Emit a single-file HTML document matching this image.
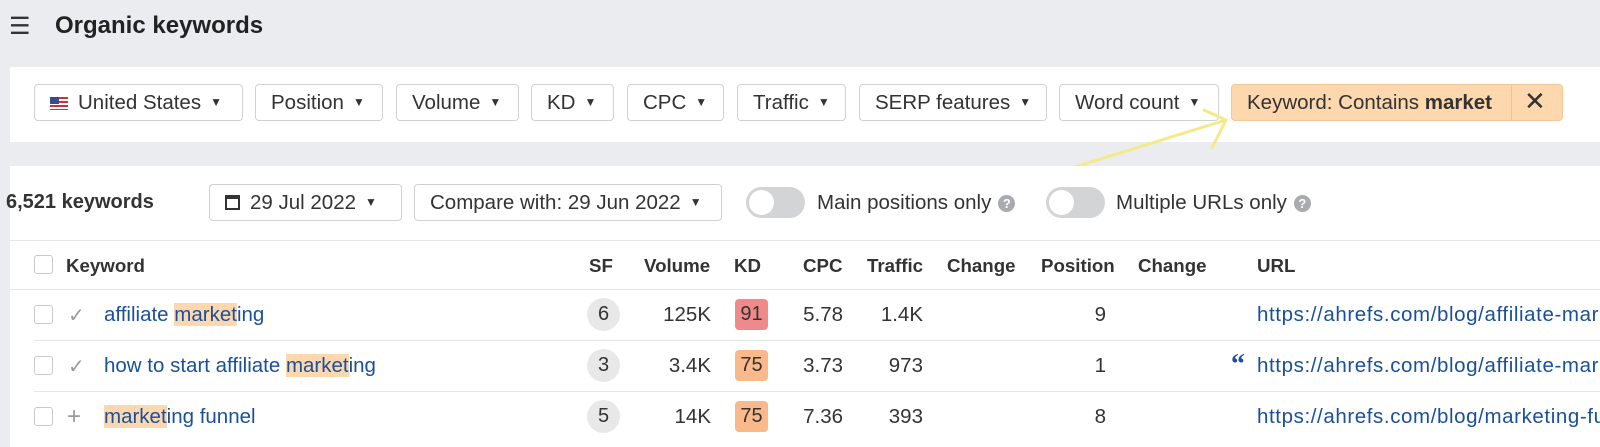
<!DOCTYPE html>
<html><head><meta charset="utf-8"><style>
*{margin:0;padding:0;box-sizing:border-box}
body{width:1600px;height:443px;background:#ebecef;font-family:"Liberation Sans",Arial,sans-serif;color:#333;position:relative;overflow:hidden;font-size:20.5px}
.a{position:absolute;white-space:nowrap}
.p{position:absolute;background:#fff}
.btn{position:absolute;border:1px solid #cfd1d5;border-radius:4px;background:#fff;height:37px;line-height:35px;padding-left:15px;font-size:20.5px;color:#333;white-space:nowrap;overflow:hidden}
.tri{font-size:12px;margin-left:9px;vertical-align:3px}
.cb{position:absolute;width:19px;height:19px;border:1px solid #c8cacd;border-radius:3px;background:#fff}
.h{position:absolute;font-weight:bold;font-size:18.7px;color:#333;white-space:nowrap}
.line{position:absolute;left:10px;right:0;height:1px;background:#e5e6e8}
.kw{color:#1a4f9c}
.u{letter-spacing:0.6px;width:343px;overflow:hidden}
.hl{background:#fdd7ae}
.sf{position:absolute;width:33px;height:33px;border-radius:50%;background:#e8e8e8;text-align:center;line-height:33px;font-size:20px}
.kd{position:absolute;width:33px;height:31px;border-radius:4px;text-align:center;line-height:31px;font-size:20px}
.tg{position:absolute;width:59px;height:31px;border-radius:16px;background:#d3d4d6}
.tg i{position:absolute;left:3px;top:3px;width:25px;height:25px;border-radius:50%;background:#fff}
.q{display:inline-block;width:17px;height:17px;border-radius:50%;background:#a9abae;color:#fff;font-size:13px;line-height:17px;text-align:center;font-weight:bold;vertical-align:1px;margin-left:7px}
.r{text-align:right}
</style></head><body>
<div class="a" style="left:9px;top:12px;font-size:24px">&#9776;</div>
<div class="a" style="left:55px;top:12px;font-size:24px;font-weight:bold;color:#222">Organic keywords</div>

<div class="p" style="left:10px;top:67px;width:1590px;height:75px"></div>
<div class="btn" style="left:34px;top:84px;width:209px"><span style="display:inline-block;width:18px;height:13px;background:repeating-linear-gradient(#c33 0 2px,#fff 2px 4px);position:relative;vertical-align:-1px;margin-right:10px"><span style="position:absolute;left:0;top:0;width:9px;height:7px;background:#3c4a8c"></span></span>United States<span class="tri">▼</span></div>
<div class="btn" style="left:255px;top:84px;width:128px">Position<span class="tri">▼</span></div>
<div class="btn" style="left:396px;top:84px;width:123px">Volume<span class="tri">▼</span></div>
<div class="btn" style="left:531px;top:84px;width:83px">KD<span class="tri">▼</span></div>
<div class="btn" style="left:627px;top:84px;width:97px">CPC<span class="tri">▼</span></div>
<div class="btn" style="left:737px;top:84px;width:109px">Traffic<span class="tri">▼</span></div>
<div class="btn" style="left:859px;top:84px;width:188px">SERP features<span class="tri">▼</span></div>
<div class="btn" style="left:1059px;top:84px;width:160px">Word count<span class="tri">▼</span></div>
<div class="btn" style="left:1231px;top:84px;width:332px;background:#fdd7ae;border-color:#f4c79a">Keyword: Contains <b>market</b></div>
<div class="a" style="left:1511px;top:85px;width:1px;height:35px;background:#f0c293"></div>
<div class="a" style="left:1524px;top:86px;font-size:26px;color:#333">✕</div>
<svg class="a" style="left:1040px;top:102px" width="200" height="80"><path d="M12 72 L186 18 M164 8 L186 18 L172 46" stroke="#f3ea8a" stroke-width="3" fill="none" stroke-linecap="round"/></svg>

<div class="p" style="left:10px;top:166px;width:1590px;height:281px"></div>
<div class="a" style="left:6px;top:191px;font-weight:bold;font-size:20px">6,521 keywords</div>
<div class="btn" style="left:209px;top:184px;width:193px"><span style="display:inline-block;width:15px;height:15px;border:2px solid #333;border-top-width:4px;vertical-align:-1px;margin-right:10px"></span>29 Jul 2022<span class="tri">▼</span></div>
<div class="btn" style="left:414px;top:184px;width:308px">Compare with: 29 Jun 2022<span class="tri">▼</span></div>
<div class="tg" style="left:746px;top:187px"><i></i></div>
<div class="a" style="left:817px;top:191px">Main positions only<span class="q">?</span></div>
<div class="tg" style="left:1046px;top:187px"><i></i></div>
<div class="a" style="left:1116px;top:191px">Multiple URLs only<span class="q">?</span></div>
<div class="line" style="top:240px"></div>

<div class="cb" style="left:34px;top:255px"></div>
<div class="h" style="left:66px;top:255px">Keyword</div>
<div class="h" style="left:589px;top:255px">SF</div>
<div class="h" style="left:644px;top:255px">Volume</div>
<div class="h" style="left:734px;top:255px">KD</div>
<div class="h" style="left:803px;top:255px">CPC</div>
<div class="h" style="left:867px;top:255px">Traffic</div>
<div class="h" style="left:947px;top:255px">Change</div>
<div class="h" style="left:1041px;top:255px">Position</div>
<div class="h" style="left:1138px;top:255px">Change</div>
<div class="h" style="left:1257px;top:255px">URL</div>
<div class="line" style="top:289px"></div>

<!-- row1 -->
<div class="cb" style="left:34px;top:305px"></div>
<div class="a" style="left:68px;top:303px;color:#999;font-size:20px">✓</div>
<div class="a kw" style="left:104px;top:303px">affiliate <span class="hl">market</span>ing</div>
<div class="sf" style="left:587px;top:298px">6</div>
<div class="a r" style="left:611px;top:303px;width:100px">125K</div>
<div class="kd" style="left:735px;top:299px;background:#f08a8a">91</div>
<div class="a r" style="left:783px;top:303px;width:60px">5.78</div>
<div class="a r" style="left:843px;top:303px;width:80px">1.4K</div>
<div class="a r" style="left:1063px;top:303px;width:43px">9</div>
<div class="a kw u" style="left:1257px;top:303px">https://ahrefs.com/blog/affiliate-marketing/</div>
<div class="line" style="top:340px;left:34px"></div>
<!-- row2 -->
<div class="cb" style="left:34px;top:356px"></div>
<div class="a" style="left:68px;top:354px;color:#999;font-size:20px">✓</div>
<div class="a kw" style="left:104px;top:354px">how to start affiliate <span class="hl">market</span>ing</div>
<div class="sf" style="left:587px;top:349px">3</div>
<div class="a r" style="left:611px;top:354px;width:100px">3.4K</div>
<div class="kd" style="left:735px;top:350px;background:#f9b98a">75</div>
<div class="a r" style="left:783px;top:354px;width:60px">3.73</div>
<div class="a r" style="left:843px;top:354px;width:80px">973</div>
<div class="a r" style="left:1063px;top:354px;width:43px">1</div>
<div class="a" style="left:1231px;top:349px;color:#1a4f9c;font-size:28px;font-weight:bold;font-family:'Liberation Serif',serif">&#8220;</div>
<div class="a kw u" style="left:1257px;top:354px">https://ahrefs.com/blog/affiliate-marketing/</div>
<div class="line" style="top:391px;left:34px"></div>
<!-- row3 -->
<div class="cb" style="left:34px;top:407px"></div>
<div class="a" style="left:67px;top:403px;color:#999;font-size:24px">+</div>
<div class="a kw" style="left:104px;top:405px"><span class="hl">market</span>ing funnel</div>
<div class="sf" style="left:587px;top:400px">5</div>
<div class="a r" style="left:611px;top:405px;width:100px">14K</div>
<div class="kd" style="left:735px;top:401px;background:#f9b98a">75</div>
<div class="a r" style="left:783px;top:405px;width:60px">7.36</div>
<div class="a r" style="left:843px;top:405px;width:80px">393</div>
<div class="a r" style="left:1063px;top:405px;width:43px">8</div>
<div class="a kw u" style="left:1257px;top:405px">https://ahrefs.com/blog/marketing-funnel/</div>
</body></html>
